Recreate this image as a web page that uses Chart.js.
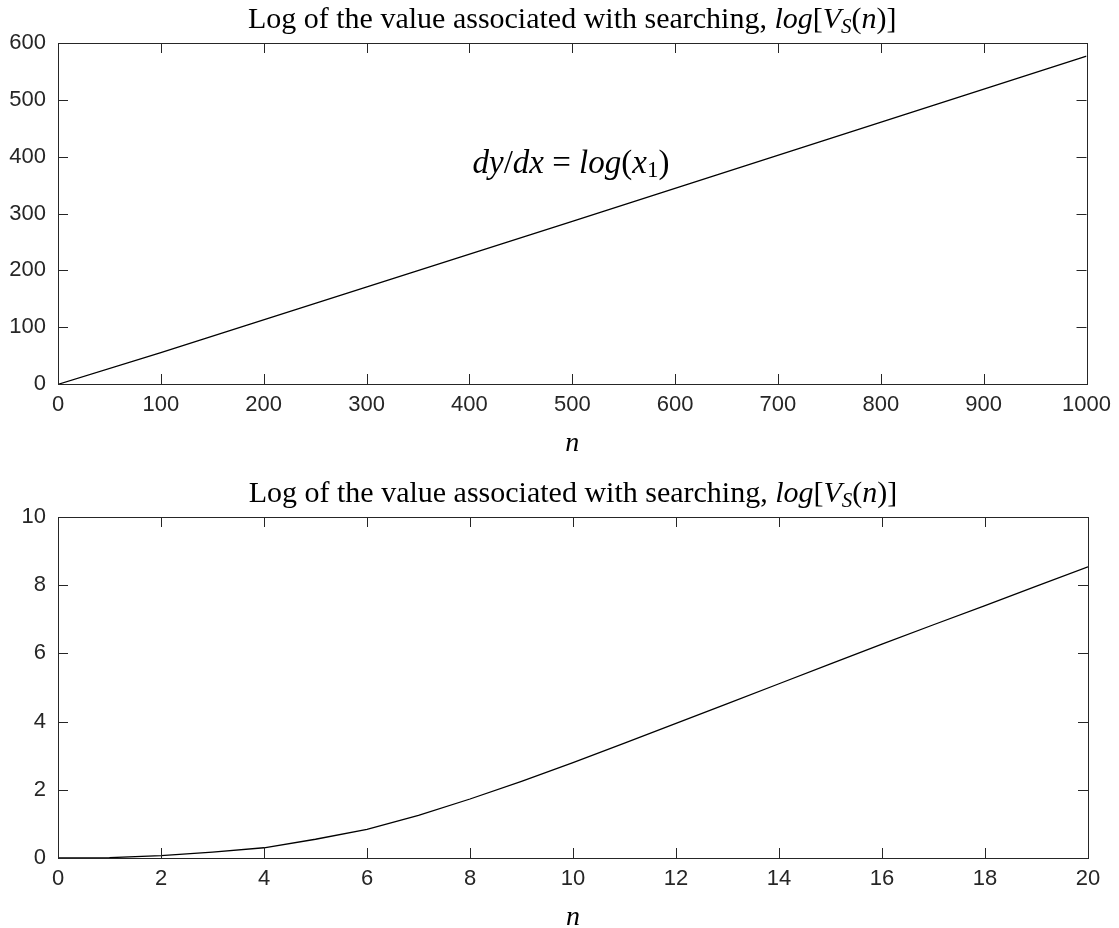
<!DOCTYPE html>
<html>
<head>
<meta charset="utf-8">
<title>log V_S(n)</title>
<script src="https://cdn.jsdelivr.net/npm/chart.js@4.4.1/dist/chart.umd.min.js"></script>
<style>
  html, body { margin: 0; padding: 0; background: #fff; overflow: hidden; }
  .panel { position: absolute; left: 0; width: 1119px; height: 464px; }
</style>
</head>
<body>
<div class="panel" style="top:0"><canvas id="chartTop"></canvas></div>
<div class="panel" style="top:474px"><canvas id="chartBottom"></canvas></div>
<script>
// full range, n up to 1000
const nLarge = [1, 100, 500, 1000];
const logVLarge = [0, 55, 286, 577];

// zoom on the first 20 values
const nSmall = [0, 1, 2, 3, 4, 5, 6, 7, 8, 9, 10, 11, 12, 13, 14, 15, 16, 17, 18, 19, 20];
const logVSmall = [0, 0.01, 0.07, 0.17, 0.3, 0.55, 0.84, 1.25, 1.73, 2.25, 2.8,
                   3.37, 3.95, 4.53, 5.11, 5.69, 6.27, 6.84, 7.4, 7.97, 8.54];

const AXIS = '#262626';
const SANS = '"Liberation Sans", Arial, Helvetica, sans-serif';
const SERIF = '"Liberation Serif", "Times New Roman", serif';

// title and note are made of runs so the math parts can be italic / subscript
const titleRuns = [
  { t: 'Log of the value associated with searching, ' },
  { t: 'log', i: true }, { t: '[' }, { t: 'V', i: true },
  { t: 'S', i: true, s: 0.7, dy: 5 }, { t: '(' }, { t: 'n', i: true }, { t: ')]' }
];
const slopeRuns = [
  { t: 'dy', i: true }, { t: '/' }, { t: 'dx', i: true }, { t: ' = ' },
  { t: 'log', i: true }, { t: '(' }, { t: 'x', i: true }, { t: '1', s: 0.7, dy: 6 }, { t: ')' }
];

function runFont(r, size) {
  return (r.i ? 'italic ' : '') + Math.round(size * (r.s || 1)) + 'px ' + SERIF;
}

function drawRuns(ctx, runs, x, y, size, align) {
  let total = 0;
  runs.forEach(r => { ctx.font = runFont(r, size); total += ctx.measureText(r.t).width; });
  let cx = align === 'center' ? x - total / 2 : x;
  ctx.textAlign = 'left';
  runs.forEach(r => {
    ctx.font = runFont(r, size);
    ctx.fillText(r.t, cx, y + (r.dy || 0));
    cx += ctx.measureText(r.t).width;
  });
}

// box around the axes with inward ticks on all four sides, plus the texts
const boxPlugin = {
  id: 'matlabBox',
  afterDatasetsDraw(chart, args, opts) {
    const { ctx, chartArea: a, scales: { x, y } } = chart;
    const len = 10;
    ctx.save();
    ctx.strokeStyle = AXIS;
    ctx.lineWidth = 1;
    ctx.beginPath();
    x.ticks.forEach(t => {
      const px = Math.round(x.getPixelForValue(t.value)) + 0.5;
      ctx.moveTo(px, a.bottom); ctx.lineTo(px, a.bottom - len);
      ctx.moveTo(px, a.top); ctx.lineTo(px, a.top + len);
    });
    y.ticks.forEach(t => {
      const py = Math.round(y.getPixelForValue(t.value)) + 0.5;
      ctx.moveTo(a.left, py); ctx.lineTo(a.left + len, py);
      ctx.moveTo(a.right, py); ctx.lineTo(a.right - len, py);
    });
    ctx.stroke();
    ctx.strokeRect(Math.round(a.left) + 0.5, Math.round(a.top) + 0.5,
                   Math.round(a.width), Math.round(a.height));

    ctx.fillStyle = '#000';
    ctx.textBaseline = 'alphabetic';
    drawRuns(ctx, titleRuns, (a.left + a.right) / 2, 28, 30, 'center');
    if (opts.note) {
      ctx.textBaseline = 'middle';
      drawRuns(ctx, slopeRuns, x.getPixelForValue(opts.note.x), y.getPixelForValue(opts.note.y), 33, 'left');
    }
    ctx.restore();
  }
};

function makeChart(id, xs, ys, xMax, xStep, yMax, yStep, note) {
  const ctx = document.getElementById(id).getContext('2d');
  return new Chart(ctx, {
    type: 'line',
    data: {
      datasets: [{
        data: xs.map((n, i) => ({ x: n, y: ys[i] })),
        borderColor: '#000',
        borderWidth: 1.3,
        pointRadius: 0,
        tension: 0,
        fill: false
      }]
    },
    options: {
      responsive: true,
      maintainAspectRatio: false,
      animation: false,
      layout: { padding: { top: 43, right: 31, bottom: 0, left: 0 } },
      plugins: {
        legend: { display: false },
        tooltip: { enabled: false },
        matlabBox: { note: note }
      },
      scales: {
        x: {
          type: 'linear',
          min: 0, max: xMax,
          grid: { display: false, drawTicks: false },
          border: { display: false },
          ticks: { stepSize: xStep, color: AXIS, padding: 8, maxRotation: 0,
                   font: { family: SANS, size: 22 },
                   callback: v => String(v) },
          title: { display: true, text: 'n', color: '#000',
                   font: { family: SERIF, style: 'italic', size: 28 },
                   padding: { top: 0, bottom: 4 } },
          afterFit(scale) { scale.height = 80; }
        },
        y: {
          min: 0, max: yMax,
          grid: { display: false, drawTicks: false },
          border: { display: false },
          ticks: { stepSize: yStep, color: AXIS, padding: 12,
                   font: { family: SANS, size: 22 },
                   callback: v => String(v) },
          afterFit(scale) { scale.width = 58; }
        }
      }
    },
    plugins: [boxPlugin]
  });
}

makeChart('chartTop', nLarge, logVLarge, 1000, 100, 600, 100, { x: 403, y: 386 });
makeChart('chartBottom', nSmall, logVSmall, 20, 2, 10, 2, null);
</script>
</body>
</html>
